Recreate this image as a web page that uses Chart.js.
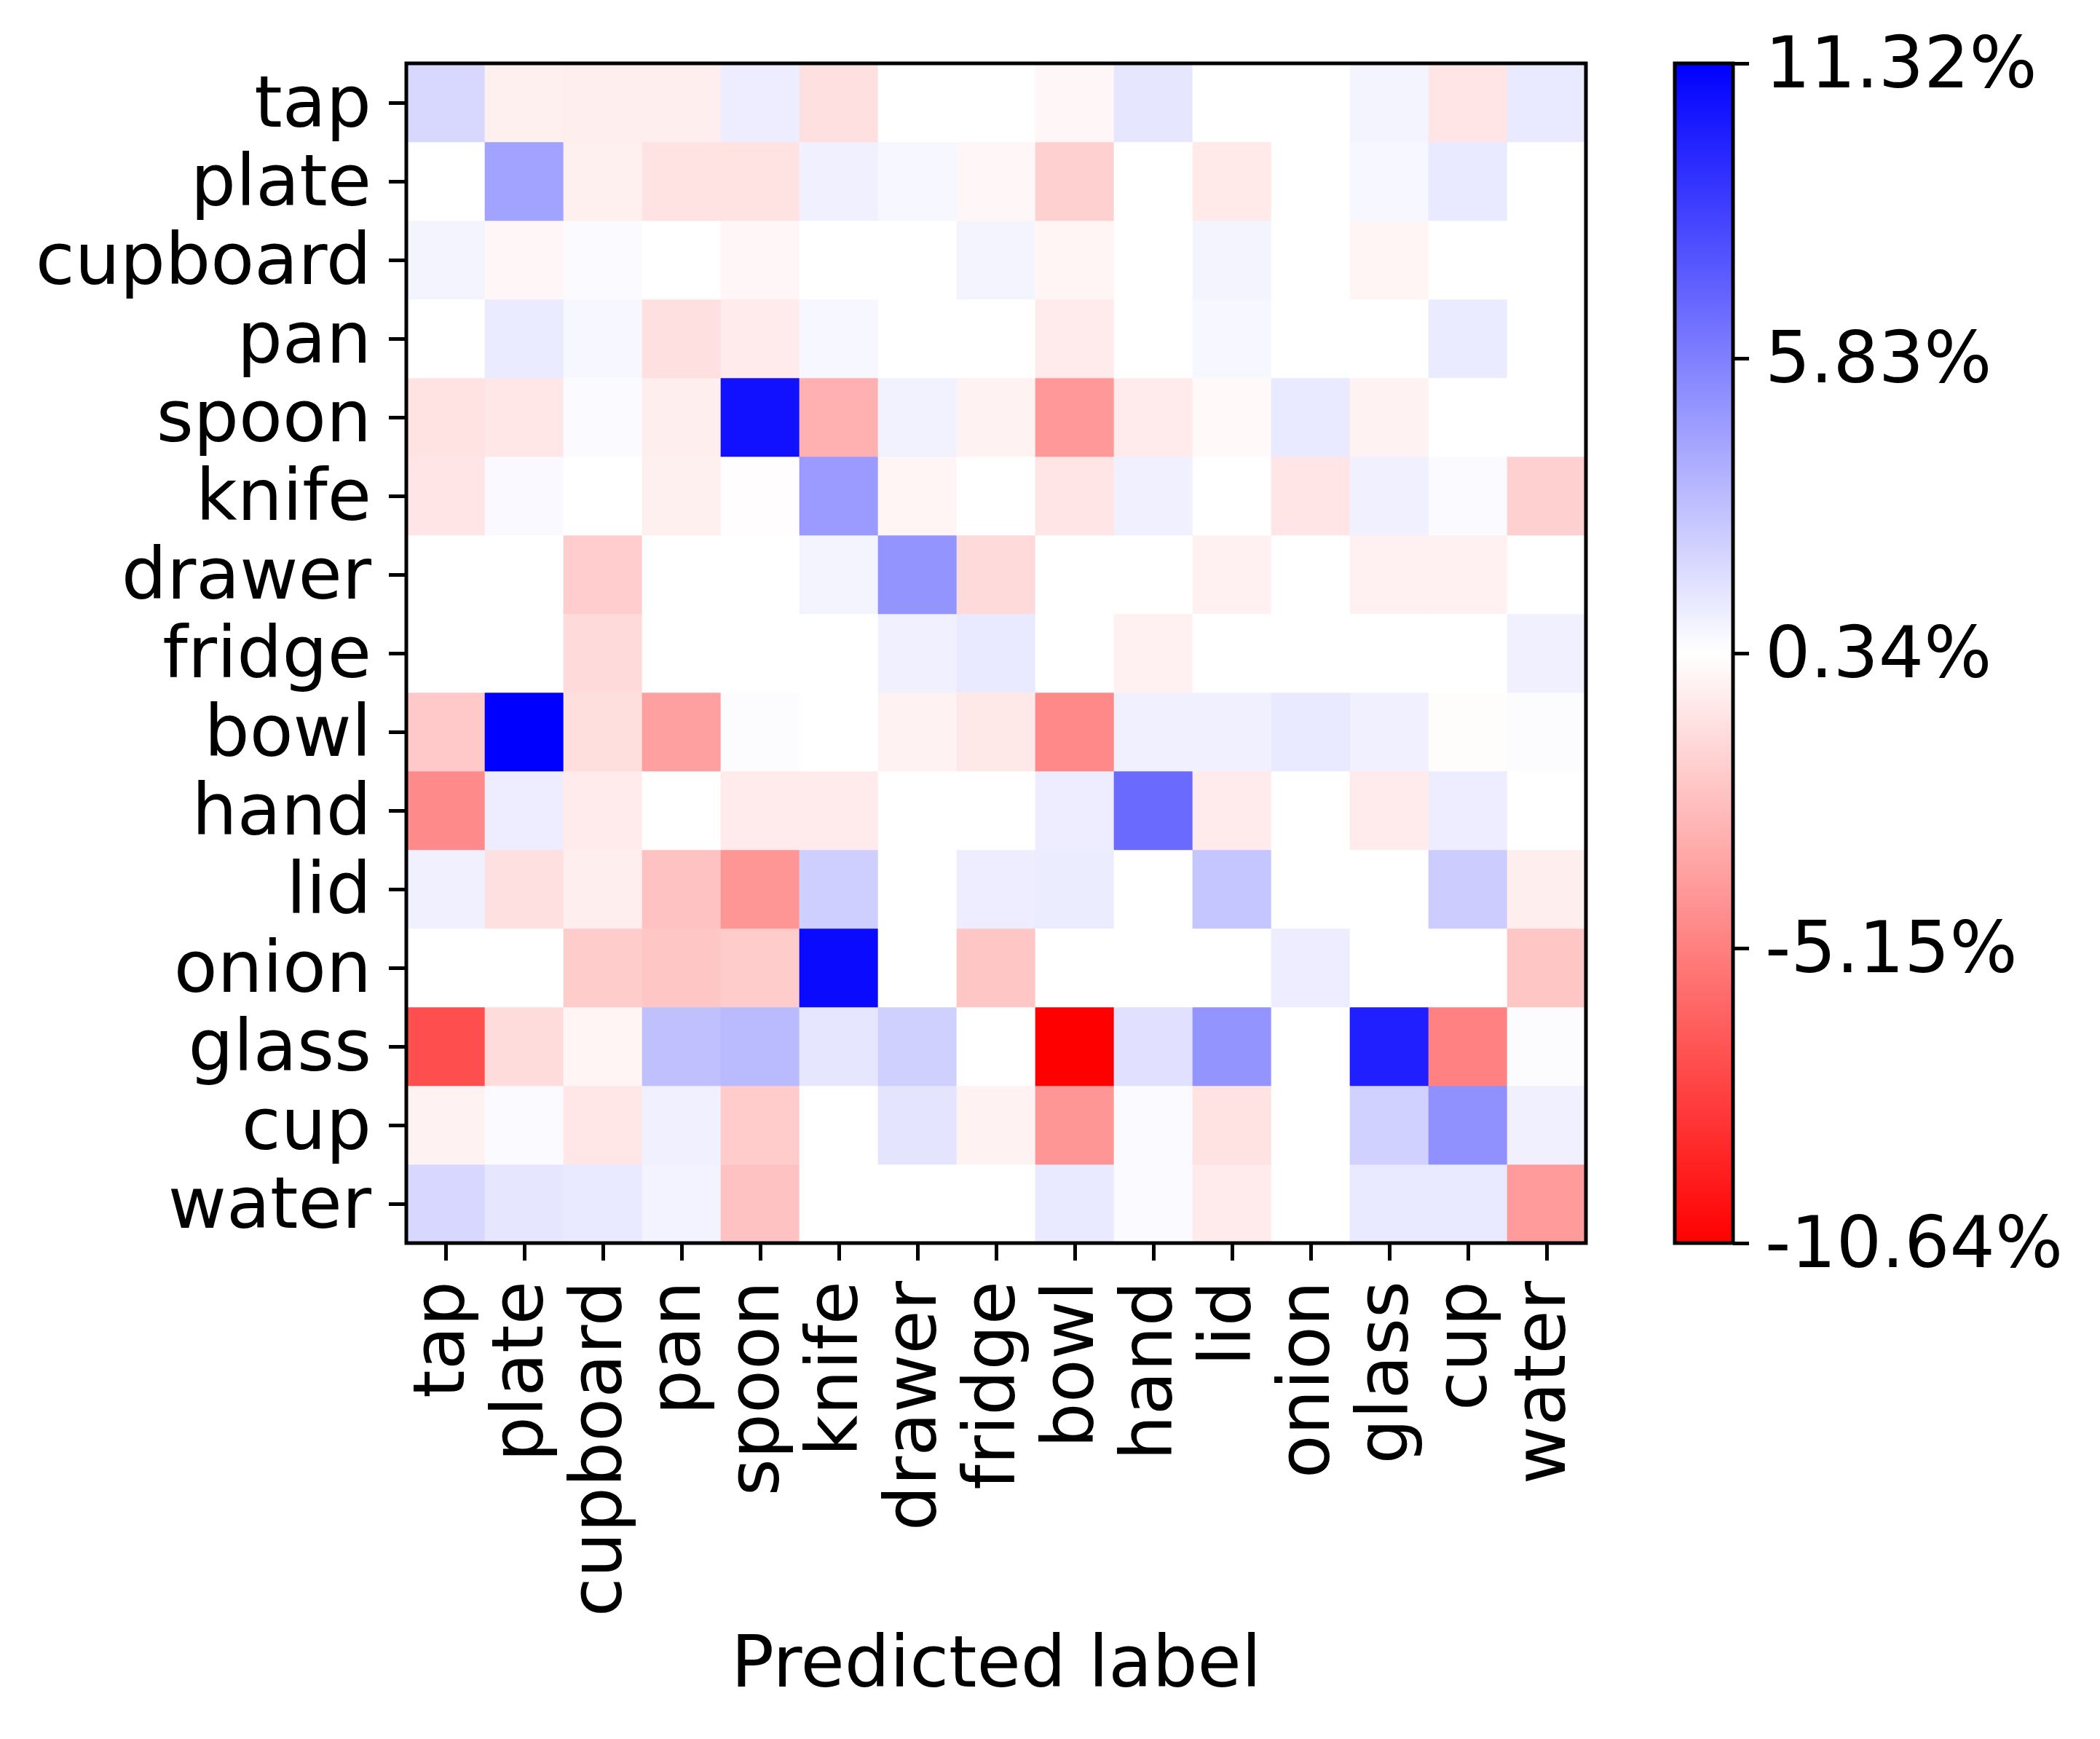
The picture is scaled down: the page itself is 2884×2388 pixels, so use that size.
<!DOCTYPE html>
<html>
<head>
<meta charset="utf-8">
<script src="https://cdn.jsdelivr.net/npm/chart.js@4.4.1/dist/chart.umd.min.js"></script>
<style>
  body { margin: 0; background: #fff; }
  #wrap { position: relative; width: 2884px; height: 2388px; overflow: hidden; }
  canvas { position: absolute; top: 0; }
  #heat { left: 0; }
  #cbar { left: 2260px; }
</style>
</head>
<body>
<div id="wrap">
  <canvas id="heat" width="2260" height="2388"></canvas>
  <canvas id="cbar" width="624" height="2388"></canvas>
</div>
<script>
// labels (true label rows, predicted label columns)
const rowLabels = ['tap', 'plate', 'cupboard', 'pan', 'spoon', 'knife', 'drawer', 'fridge',
  'bowl', 'hand', 'lid', 'onion', 'glass', 'cup', 'water'];
const colLabels = rowLabels.slice();

// difference in %, one array per true label
const rowTap      = [2.0, -0.3, -0.4, -0.4, 1.1, -1.0, 0.34, 0.34, 0.0, 1.4, 0.34, 0.34, 0.8, -0.8, 1.3];
const rowPlate    = [0.34, 4.35, -0.3, -0.9, -0.9, 1.0, 0.7, 0.0, -1.7, 0.34, -0.6, 0.34, 0.7, 1.3, 0.34];
const rowCupboard = [0.8, 0.0, 0.5, 0.34, 0.0, 0.34, 0.34, 0.8, -0.1, 0.34, 0.8, 0.34, -0.1, 0.34, 0.34];
const rowPan      = [0.34, 1.2, 0.7, -1.0, -0.5, 0.7, 0.34, 0.34, -0.5, 0.34, 0.7, 0.34, 0.34, 1.2, 0.34];
const rowSpoon    = [-0.9, -0.7, 0.5, -0.4, 10.6, -3.0, 0.9, -0.2, -4.05, -0.5, 0.1, 1.3, -0.2, 0.34, 0.34];
const rowKnife    = [-0.8, 0.6, 0.34, -0.3, 0.25, 4.65, -0.1, 0.34, -0.8, 1.0, 0.34, -0.8, 1.0, 0.5, -1.7];
const rowDrawer   = [0.34, 0.34, -1.8, 0.34, 0.34, 0.8, 4.95, -1.25, 0.34, 0.34, -0.25, 0.34, -0.25, -0.25, 0.34];
const rowFridge   = [0.34, 0.34, -1.25, 0.34, 0.34, 0.34, 1.0, 1.3, 0.34, -0.25, 0.34, 0.34, 0.34, 0.34, 1.0];
const rowBowl     = [-2.0, 11.32, -1.1, -3.75, 0.45, 0.34, -0.2, -0.65, -4.8, 1.0, 1.0, 1.3, 1.0, 0.2, 0.45];
const rowHand     = [-4.7, 1.1, -0.5, 0.34, -0.5, -0.5, 0.34, 0.34, 1.1, 6.75, -0.5, 0.34, -0.5, 1.1, 0.34];
const rowLid      = [1.0, -1.0, -0.4, -2.3, -4.2, 2.45, 0.34, 1.1, 1.15, 0.34, 2.85, 0.34, 0.34, 2.55, -0.4];
const rowOnion    = [0.34, 0.34, -1.85, -2.1, -1.85, 10.9, 0.34, -2.1, 0.34, 0.34, 0.34, 1.1, 0.34, 0.34, -2.1];
const rowGlass    = [-7.3, -1.15, -0.1, 3.05, 3.3, 1.4, 2.35, 0.34, -10.64, 1.65, 4.95, 0.34, 10.0, -5.1, 0.45];
const rowCup      = [-0.2, 0.55, -0.7, 1.0, -1.9, 0.34, 1.5, -0.2, -4.2, 0.5, -0.9, 0.34, 2.3, 5.1, 1.0];
const rowWater    = [2.05, 1.4, 1.3, 0.85, -2.3, 0.34, 0.34, 0.34, 1.3, 0.5, -0.5, 0.34, 1.3, 1.3, -3.95];

// colorbar ticks
const cbarTicks = [-10.64, -5.15, 0.34, 5.83, 11.32];

const matrix = [rowTap, rowPlate, rowCupboard, rowPan, rowSpoon, rowKnife, rowDrawer, rowFridge,
  rowBowl, rowHand, rowLid, rowOnion, rowGlass, rowCup, rowWater];
const vmin = cbarTicks[0];
const vmax = cbarTicks[cbarTicks.length - 1];

// bwr reversed: red at vmin, white in the middle, blue at vmax
function cellColor(v) {
  let t = (v - vmin) / (vmax - vmin);
  t = Math.max(0, Math.min(1, t));
  if (t < 0.5) {
    const g = Math.round(255 * 2 * t);
    return `rgb(255,${g},${g})`;
  }
  const g = Math.round(255 * 2 * (1 - t));
  return `rgb(${g},${g},255)`;
}

Chart.defaults.font.family = 'DejaVu Sans';
Chart.defaults.font.size = 98;
Chart.defaults.color = '#000';

const frame = {
  id: 'frame',
  afterDatasetsDraw(chart) {
    const { ctx, chartArea: a } = chart;
    ctx.save();
    ctx.strokeStyle = '#000';
    ctx.lineWidth = 5;
    ctx.strokeRect(a.left, a.top, a.right - a.left, a.bottom - a.top);
    ctx.restore();
  }
};

const datasets = matrix.map((row, r) => ({
  label: rowLabels[r],
  data: row.map(() => [r - 0.5, r + 0.5]),
  backgroundColor: row.map(cellColor),
  borderWidth: 0,
  barPercentage: 1,
  categoryPercentage: 1,
  grouped: false
}));

// Heatmap
new Chart(document.getElementById('heat'), {
  type: 'bar',
  data: { labels: colLabels, datasets: datasets },
  options: {
    responsive: false,
    devicePixelRatio: 1,
    animation: false,
    layout: { padding: { left: 0, top: 87, right: 82, bottom: 39 } },
    plugins: { legend: { display: false }, tooltip: { enabled: false } },
    scales: {
      x: {
        type: 'category',
        offset: true,
        grid: { display: true, drawOnChartArea: false, offset: false, tickLength: 24, tickWidth: 5, tickColor: '#000' },
        border: { display: false },
        ticks: { autoSkip: false, minRotation: 90, maxRotation: 90, padding: 28, color: '#000' },
        title: { display: true, text: 'Predicted label', padding: { top: 0, bottom: 0 }, font: { size: 98, lineHeight: 1.2 } },
        afterFit(scale) {
          scale.height = 642;
          scale.paddingLeft = 0;
          scale.paddingRight = 0;
        }
      },
      y: {
        type: 'linear',
        min: -0.5,
        max: 14.5,
        reverse: true,
        grid: { display: true, drawOnChartArea: false, tickLength: 24, tickWidth: 5, tickColor: '#000' },
        border: { display: false },
        afterBuildTicks(scale) { scale.ticks = rowLabels.map((_, i) => ({ value: i })); },
        ticks: { autoSkip: false, padding: 24, labelOffset: 8, color: '#000', callback: (v) => rowLabels[v] },
        afterFit(scale) {
          scale.width = 558;
          scale.paddingTop = 0;
          scale.paddingBottom = 0;
        }
      }
    }
  },
  plugins: [frame]
});

// Colorbar
new Chart(document.getElementById('cbar'), {
  type: 'bar',
  data: {
    labels: ['scale'],
    datasets: [{
      data: [[vmin, vmax]],
      borderWidth: 0,
      barPercentage: 1,
      categoryPercentage: 1,
      backgroundColor(ctx) {
        const area = ctx.chart.chartArea;
        if (!area) return '#fff';
        const g = ctx.chart.ctx.createLinearGradient(0, area.bottom, 0, area.top);
        g.addColorStop(0, 'rgb(255,0,0)');
        g.addColorStop(0.5, 'rgb(255,255,255)');
        g.addColorStop(1, 'rgb(0,0,255)');
        return g;
      }
    }]
  },
  options: {
    responsive: false,
    devicePixelRatio: 1,
    animation: false,
    layout: { padding: { left: 40, top: 87, right: 0, bottom: 681 } },
    plugins: { legend: { display: false }, tooltip: { enabled: false } },
    scales: {
      x: { display: false },
      y: {
        type: 'linear',
        position: 'right',
        min: vmin,
        max: vmax,
        grid: { display: true, drawOnChartArea: false, tickLength: 22, tickWidth: 5, tickColor: '#000' },
        border: { display: false },
        afterBuildTicks(scale) { scale.ticks = cbarTicks.map(v => ({ value: v })); },
        ticks: { padding: 22, labelOffset: 8, color: '#000', callback: (v) => v.toFixed(2) + '%' },
        afterFit(scale) {
          scale.width = 504;
          scale.paddingTop = 0;
          scale.paddingBottom = 0;
        }
      }
    }
  },
  plugins: [frame]
});
</script>
</body>
</html>
